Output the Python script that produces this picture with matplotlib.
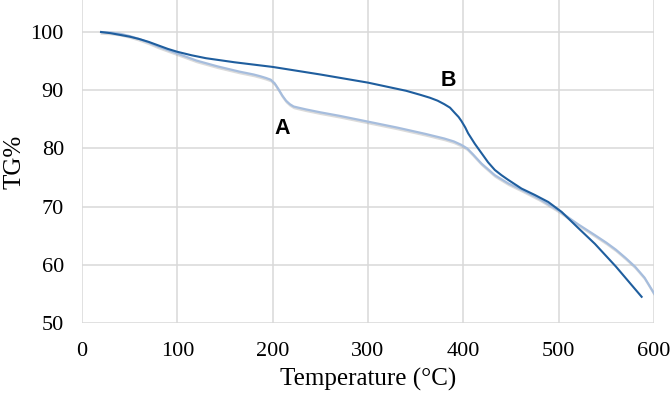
import matplotlib
matplotlib.use("Agg")
import matplotlib.pyplot as plt
import matplotlib.patheffects as pe

# Curve A (light blue)
temp_a = [20, 30, 40, 50, 60, 70, 80, 90, 100, 120, 142, 165, 180, 187, 193, 198,
          202, 206, 210, 214, 218, 222, 227, 235, 250, 270, 300, 330, 360, 380,
          390, 398, 404, 410, 419, 433, 447, 461, 480, 500, 520, 538, 550, 560,
          570, 580, 590, 600]
tg_a = [100.0, 99.9, 99.7, 99.3, 98.8, 98.2, 97.5, 96.9, 96.3, 95.1, 94.1, 93.2,
        92.7, 92.4, 92.1, 91.8, 91.2, 90.2, 89.1, 88.2, 87.6, 87.2, 87.0, 86.7,
        86.2, 85.6, 84.6, 83.6, 82.5, 81.7, 81.2, 80.6, 80.0, 79.0, 77.4, 75.4,
        74.0, 72.9, 71.3, 69.3, 67.0, 65.1, 63.8, 62.6, 61.2, 59.7, 57.8, 55.1]

# Curve B (dark blue)
temp_b = [20, 30, 40, 50, 60, 70, 80, 90, 100, 115, 130, 160, 200, 250, 300, 340,
          355, 365, 373, 380, 386, 391, 395, 398, 402, 405, 412, 419, 426, 433,
          440, 447, 461, 475, 489, 503, 520, 538, 560, 587]
tg_b = [100.0, 99.8, 99.5, 99.2, 98.8, 98.3, 97.7, 97.1, 96.6, 96.0, 95.5, 94.8,
        94.0, 92.7, 91.3, 89.9, 89.2, 88.7, 88.2, 87.6, 87.0, 86.1, 85.4, 84.7,
        83.6, 82.6, 80.8, 79.2, 77.6, 76.3, 75.4, 74.6, 73.1, 72.0, 70.8, 69.1,
        66.4, 63.6, 59.7, 54.5]

x_ticks = [0, 100, 200, 300, 400, 500, 600]
y_ticks = [50, 60, 70, 80, 90, 100]

fig = plt.figure(figsize=(6.71, 3.97), dpi=100)
ax = fig.add_axes([0.1222, 0.1864, 0.8525, 0.8136])

shadow = [pe.SimpleLineShadow(offset=(0.5, -1.2), shadow_color="#999999", alpha=0.35),
          pe.Normal()]
ax.plot(temp_a, tg_a, color="#a6bddd", lw=1.6, path_effects=shadow, zorder=3)
ax.plot(temp_b, tg_b, color="#1f5e9e", lw=1.5, zorder=4)

ax.text(210.5, 83.5, "A", fontsize=15.5, fontweight="bold", family="Liberation Sans",
        ha="center", va="center")
ax.text(384, 91.6, "B", fontsize=15.5, fontweight="bold", family="Liberation Sans",
        ha="center", va="center")

ax.set_xlim(0, 600)
ax.set_ylim(50, 105.5)
ax.set_xticks(x_ticks)
ax.set_yticks(y_ticks)
ax.grid(True, color="#d9d9d9", lw=1.1)
ax.set_axisbelow(True)
for s in ax.spines.values():
    s.set_visible(False)
ax.tick_params(length=0, labelsize=16)
ax.tick_params(axis="y", pad=13)
ax.tick_params(axis="x", pad=14)
for lab in ax.get_xticklabels() + ax.get_yticklabels():
    lab.set_family("Liberation Serif")

ax.set_xlabel("Temperature (\u00b0C)", fontsize=18, family="Liberation Serif", labelpad=5)
ax.set_ylabel("TG%", fontsize=18, family="Liberation Serif", labelpad=4)

fig.savefig("out.png", dpi=100)
